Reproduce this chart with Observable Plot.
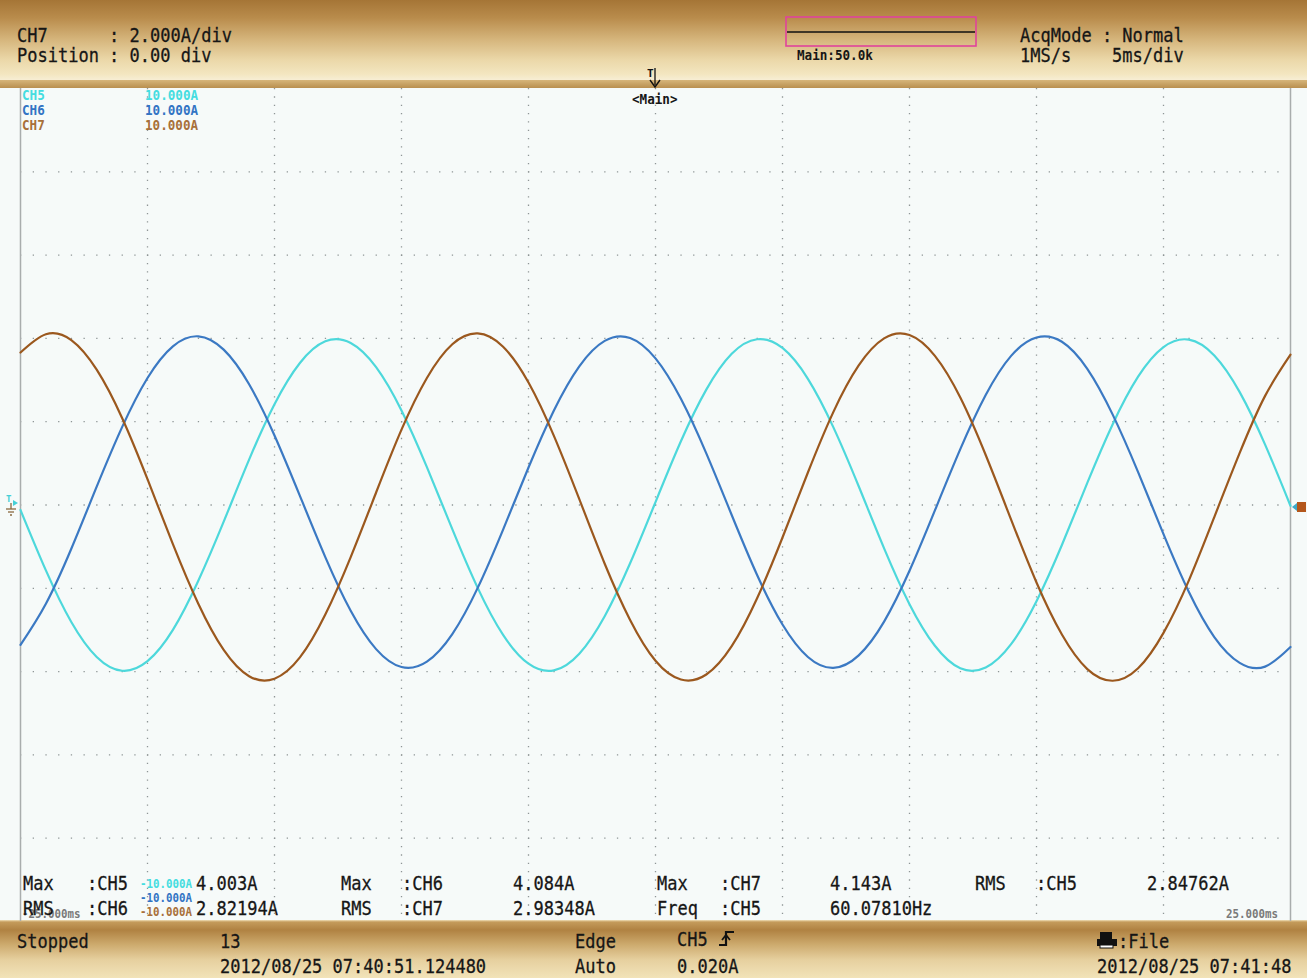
<!DOCTYPE html>
<html><head><meta charset="utf-8">
<script src="https://cdn.jsdelivr.net/npm/d3@7"></script>
<script src="https://cdn.jsdelivr.net/npm/@observablehq/plot@0.6"></script>
<style>
html,body{margin:0;padding:0;background:#f6faf9;}
#scope{position:relative;width:1307px;height:978px;overflow:hidden;background:#f6faf9;}
#hdr{position:absolute;left:0;top:0;width:1307px;height:80px;
 background:linear-gradient(to bottom,#a57536 0px,#b98c4c 18px,#d6b67d 40px,#ebd8a9 60px,#f3e6c0 74px,#f7eed4 80px);}
#band{position:absolute;left:0;top:80px;width:1307px;height:8px;background:linear-gradient(to bottom,#d6b57a,#b98f4f);}
#ftr{position:absolute;left:0;top:920px;width:1307px;height:58px;
 background:linear-gradient(to bottom,#efe0b8 0px,#c49b5b 2px,#b08242 10px,#cca96c 24px,#e6d09f 40px,#f2e3b9 58px);}
#chart{position:absolute;left:0;top:0;z-index:1;}
.t{position:absolute;white-space:pre;font-family:"DejaVu Sans Mono",monospace;line-height:0.85;transform-origin:0 0;z-index:3;}
.big{font-size:20px;transform:scaleX(0.85);color:#161616;-webkit-text-stroke:0.3px #161616;}
.sm{font-size:14px;font-weight:bold;transform:scaleX(0.9);}
.xs{font-size:12px;font-weight:bold;transform:scaleX(0.9);}
.ico{position:absolute;z-index:3;}
</style></head>
<body><div id="scope"><div id="hdr"></div><div id="band"></div><div id="ftr"></div></div>
<script>
// ---- data (ms, A) ----
const times = [-25,-24,-23,-22,-21,-20,-19,-18,-17,-16,-15,-14,-13,-12,-11,-10,-9,-8,-7,-6,-5,-4,-3,-2,-1,0,1,2,3,4,5,6,7,8,9,10,11,12,13,14,15,16,17,18,19,20,21,22,23,24,25];
const ch5 = [-0.12,-1.57,-2.81,-3.65,-3.98,-3.75,-3.00,-1.82,-0.40,1.09,2.42,3.41,3.93,3.89,3.31,2.27,0.91,-0.58,-1.99,-3.12,-3.81,-3.97,-3.57,-2.67,-1.40,0.07,1.53,2.77,3.63,3.98,3.77,3.03,1.87,0.45,-1.04,-2.38,-3.38,-3.92,-3.90,-3.34,-2.31,-0.96,0.53,1.94,3.08,3.79,3.97,3.59,2.71,1.45,-0.02];
const ch6 = [-3.36,-2.37,-1.05,0.44,1.87,3.05,3.81,4.05,3.73,2.90,1.67,0.22,-1.25,-2.54,-3.46,-3.89,-3.76,-3.10,-1.99,-0.59,0.90,2.27,3.33,3.94,4.01,3.52,2.55,1.24,-0.24,-1.68,-2.87,-3.65,-3.91,-3.61,-2.80,-1.58,-0.13,1.34,2.64,3.58,4.02,3.92,3.27,2.17,0.79,-0.70,-2.09,-3.17,-3.79,-3.88,-3.41];
const ch7 = [3.66,4.10,3.96,3.25,2.09,0.62,-0.94,-2.37,-3.48,-4.11,-4.17,-3.66,-2.63,-1.25,0.30,1.81,3.05,3.86,4.12,3.80,2.94,1.66,0.14,-1.41,-2.76,-3.74,-4.19,-4.07,-3.39,-2.24,-0.78,0.78,2.23,3.35,4.00,4.08,3.58,2.58,1.20,-0.35,-1.86,-3.11,-3.94,-4.22,-3.92,-3.07,-1.81,-0.29,1.25,2.62,3.61];
const channels = ["CH5","CH6","CH7"];
const channelColors = ["#4dd8db","#3b79c3","#9b581e"];
const labelColors = ["#45dde0","#3274c4","#a8703a"];
const timeGrid = [-20,-15,-10,-5,0,5,10,15,20];
const currentGrid = [-8,-6,-4,-2,0,2,4,6,8];
const timeEdges = [-25,25];
const topScale = ["10.000A","10.000A","10.000A"];
const bottomScale = ["-10.000A","-10.000A","-10.000A"];
const measRow1 = [["Max",":CH5","4.003A"],["Max",":CH6","4.084A"],["Max",":CH7","4.143A"],["RMS",":CH5","2.84762A"]];
const measRow2 = [["RMS",":CH6","2.82194A"],["RMS",":CH7","2.98348A"],["Freq",":CH5","60.07810Hz"]];

const series = [ch5, ch6, ch7];
const rows = channels.map((c, k) => times.map((t, i) => ({t, a: series[k][i], ch: c})));

const chart = Plot.plot({
  width: 1307, height: 978,
  marginTop: 88, marginBottom: 57, marginLeft: 20, marginRight: 17,
  x: {domain: [-25, 25], axis: null},
  y: {domain: [-10, 10], axis: null},
  color: {domain: channels, range: channelColors},
  style: {background: "transparent", overflow: "visible"},
  marks: [
    Plot.ruleX(timeGrid, {stroke: "#8f9696", strokeWidth: 1.3, strokeDasharray: "1.3,7.03"}),
    Plot.ruleY(currentGrid, {stroke: "#8f9696", strokeWidth: 1.3, strokeDasharray: "1.3,11.4"}),
    Plot.ruleX(timeEdges, {stroke: "#a9adad", strokeWidth: 1.5}),
    Plot.line(rows[0], {x: "t", y: "a", stroke: "ch", curve: "natural", strokeWidth: 2.2}),
    Plot.line(rows[1], {x: "t", y: "a", stroke: "ch", curve: "natural", strokeWidth: 2.2}),
    Plot.line(rows[2], {x: "t", y: "a", stroke: "ch", curve: "natural", strokeWidth: 2.2})
  ]
});
chart.id = "chart";
const scope = document.getElementById("scope");
scope.appendChild(chart);

function txt(s, x, base, cls, color) {
  const d = document.createElement("div");
  d.className = "t " + cls;
  const fs = cls === "big" ? 20 : cls === "sm" ? 14 : 12;
  d.style.left = x + "px";
  d.style.top = (base - 0.771 * fs) + "px";
  if (color) d.style.color = color;
  d.textContent = s;
  scope.appendChild(d);
}
function ico(html, x, y, w, h) {
  const d = document.createElement("div");
  d.className = "ico";
  d.style.left = x + "px"; d.style.top = y + "px";
  d.innerHTML = `<svg width="${w}" height="${h}" viewBox="0 0 ${w} ${h}">${html}</svg>`;
  scope.appendChild(d);
}

// header
txt("CH7      : 2.000A/div", 17, 42, "big");
txt("Position : 0.00 div", 17, 62, "big");
txt("AcqMode : Normal", 1020, 42, "big");
txt("1MS/s    5ms/div", 1020, 62, "big");
ico('<rect x="1" y="1" width="190" height="29" fill="none" stroke="#e0449c" stroke-width="1.6"/><line x1="2" y1="16" x2="190" y2="16" stroke="#111" stroke-width="1.4"/>', 785, 16, 192, 31);
txt("Main:50.0k", 797, 61, "sm", "#161616");
ico('<text x="0" y="10" font-family="DejaVu Sans Mono" font-size="11" font-weight="bold" fill="#111">T</text><line x1="8" y1="1" x2="8" y2="18" stroke="#111" stroke-width="1.3"/><path d="M3,13 L8,20 L13,13" fill="none" stroke="#111" stroke-width="1.4"/>', 647, 67, 16, 22);
txt("<Main>", 632, 105, "sm", "#161616");

// channel scale labels
channels.forEach((c, k) => {
  txt(c, 22, 101 + 15 * k, "sm", labelColors[k]);
  txt(topScale[k], 145, 101 + 15 * k, "sm", labelColors[k]);
});

// time labels
txt("-25.000ms", 22, 918, "xs", "#7a7a7a");
txt("25.000ms", 1226, 918, "xs", "#7a7a7a");

// measurements
const colX = [[23, 87, 196], [341, 402, 513], [657, 720, 830], [975, 1036, 1147]];
measRow1.forEach((m, j) => m.forEach((s, i) => txt(s, colX[j][i], 890, "big")));
measRow2.forEach((m, j) => m.forEach((s, i) => txt(s, colX[j][i], 915, "big")));
channels.forEach((c, k) => txt(bottomScale[k], 140, 888 + 14 * k, "xs", labelColors[k]));

// markers on the screen edges
ico('<text x="1" y="8" font-family="DejaVu Sans Mono" font-size="9" font-weight="bold" fill="#45d0d6">T</text><path d="M8,6 L13,9 L8,12 Z" fill="#45d0d6"/><line x1="6" y1="9" x2="6" y2="15" stroke="#8a6a40" stroke-width="1.3"/><line x1="1" y1="15" x2="11" y2="15" stroke="#8a6a40" stroke-width="1.3"/><line x1="3" y1="18" x2="9" y2="18" stroke="#8a6a40" stroke-width="1.3"/><line x1="5" y1="21" x2="7" y2="21" stroke="#8a6a40" stroke-width="1.3"/>', 5, 494, 16, 24);
ico('<path d="M0,6 L5,2 L5,10 Z" fill="#3fa9c8"/><rect x="5" y="1" width="9" height="10" fill="#b4571c"/>', 1292, 499, 15, 12);

// bottom bar
txt("Stopped", 17, 948, "big");
txt("13", 220, 948, "big");
txt("2012/08/25 07:40:51.124480", 220, 973, "big");
txt("Edge", 575, 948, "big");
txt("Auto", 575, 973, "big");
txt("CH5", 677, 946, "big");
ico('<path d="M1,15 L8,15 L8,2 L16,2" fill="none" stroke="#111" stroke-width="2.2"/><path d="M4,10 L8,5 L12,10" fill="none" stroke="#111" stroke-width="1.8"/>', 718, 930, 17, 17);
txt("0.020A", 677, 973, "big");
ico('<rect x="3" y="1" width="12" height="7" fill="#111"/><rect x="0" y="8" width="20" height="7" fill="#111"/><rect x="3" y="14" width="13" height="3" fill="#fff" stroke="#111" stroke-width="1"/>', 1097, 931, 21, 18);
txt(":File", 1118, 948, "big");
txt("2012/08/25 07:41:48", 1097, 973, "big");
</script></body></html>
